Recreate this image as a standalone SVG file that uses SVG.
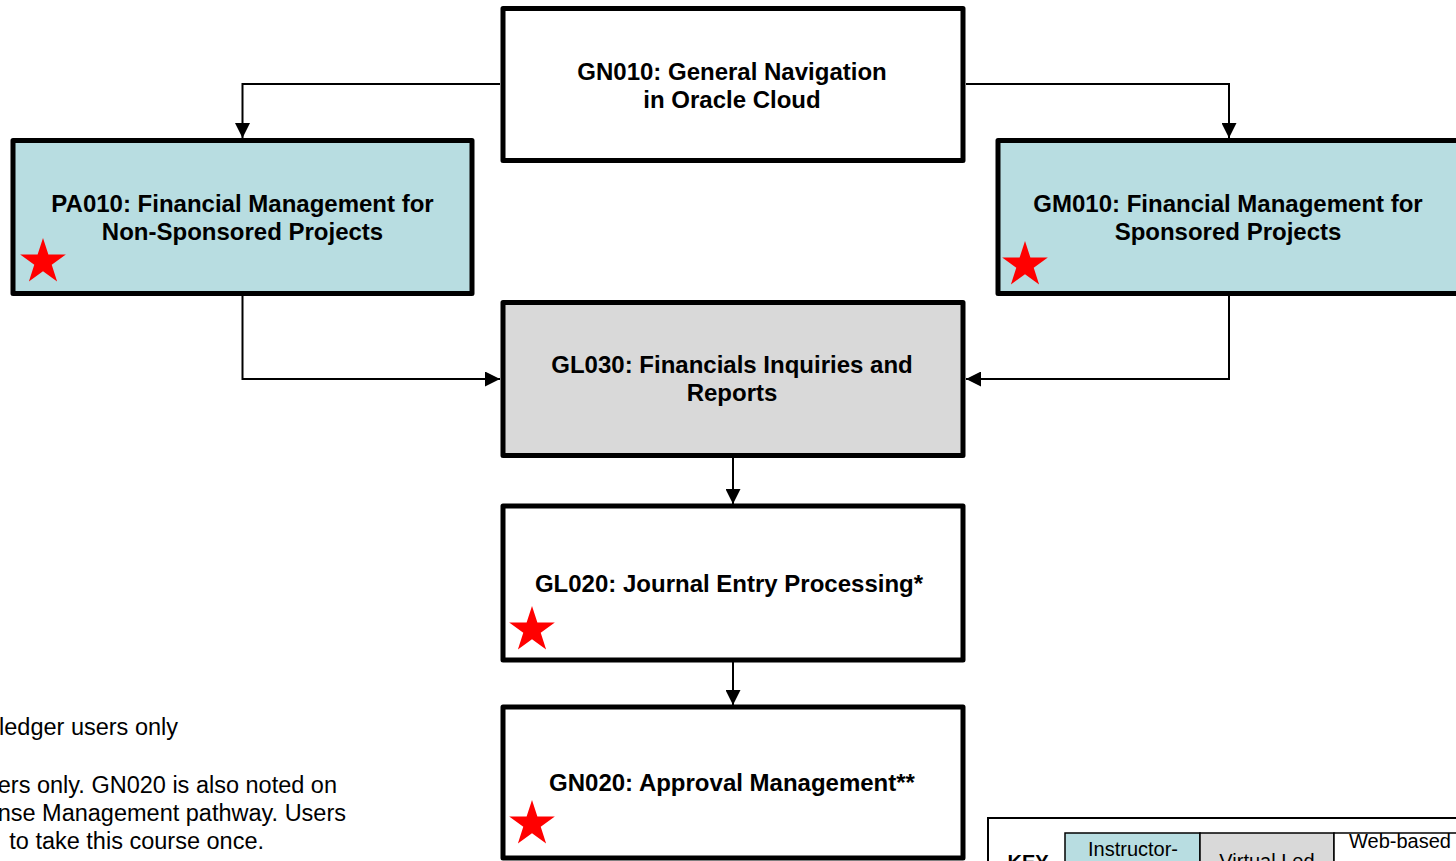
<svg xmlns="http://www.w3.org/2000/svg" xmlns:xlink="http://www.w3.org/1999/xlink" width="1456" height="861" viewBox="0 0 1456 861">
<style>
.box{stroke:#000;stroke-width:5;stroke-linejoin:round}
.white{fill:#fff}
.blue{fill:#B8DDE1}
.gray{fill:#D9D9D9}
.t{font-family:"Liberation Sans",Arial,sans-serif;font-weight:bold;font-size:24px;fill:#000;text-anchor:middle}
.note{font-family:"Liberation Sans",Arial,sans-serif;font-size:23.5px;fill:#000;text-anchor:end}
.conn{fill:none;stroke:#000;stroke-width:2}
.star{fill:#FF0000}
.key{font-family:"Liberation Sans",Arial,sans-serif;font-size:20px;fill:#000;text-anchor:middle}
</style>
<defs>
<marker id="arr" markerUnits="userSpaceOnUse" markerWidth="15" markerHeight="15" refX="15" refY="7.5" orient="auto">
<path d="M0,0 L15,7.5 L0,15 z" fill="#000"/>
</marker>
<polygon id="star" class="star" points="0,-24 5.39,-7.42 22.83,-7.42 8.72,2.83 14.11,19.42 0,9.17 -14.11,19.42 -8.72,2.83 -22.83,-7.42 -5.39,-7.42"/>
</defs>
<rect width="1456" height="861" fill="#fff"/>

<g id="connectors">
<path class="conn" d="M500,84 H242.5 V138" marker-end="url(#arr)"/>
<path class="conn" d="M966,84 H1229 V138" marker-end="url(#arr)"/>
<path class="conn" d="M242.5,296 V379 H500" marker-end="url(#arr)"/>
<path class="conn" d="M1229,296 V379 H966" marker-end="url(#arr)"/>
<path class="conn" d="M733,458 V504" marker-end="url(#arr)"/>
<path class="conn" d="M733,662 V705" marker-end="url(#arr)"/>
</g>

<g id="GN010">
<rect class="box white" x="503" y="8.5" width="460" height="152"/>
<text class="t" x="732" y="80">GN010: General Navigation</text>
<text class="t" x="732" y="108">in Oracle Cloud</text>
</g>

<g id="PA010">
<rect class="box blue" x="13" y="140.5" width="459" height="153"/>
<text class="t" x="242.5" y="212">PA010: Financial Management for</text>
<text class="t" x="242.5" y="240">Non-Sponsored Projects</text>
<use xlink:href="#star" x="43" y="262"/>
</g>

<g id="GM010">
<rect class="box blue" x="998" y="140.5" width="462" height="153"/>
<text class="t" x="1228" y="212">GM010: Financial Management for</text>
<text class="t" x="1228" y="240">Sponsored Projects</text>
<use xlink:href="#star" x="1025" y="265"/>
</g>

<g id="GL030">
<rect class="box gray" x="503" y="302.5" width="460" height="153"/>
<text class="t" x="732" y="373">GL030: Financials Inquiries and</text>
<text class="t" x="732" y="401">Reports</text>
</g>

<g id="GL020">
<rect class="box white" x="503" y="506" width="460" height="154"/>
<text class="t" x="729" y="592">GL020: Journal Entry Processing*</text>
<use xlink:href="#star" x="532" y="630"/>
</g>

<g id="GN020">
<rect class="box white" x="503" y="707" width="460" height="151"/>
<text class="t" x="732" y="791">GN020: Approval Management**</text>
<use xlink:href="#star" x="532" y="824"/>
</g>

<g id="notes">
<text class="note" x="178" y="735">ledger users only</text>
<text class="note" x="337" y="793">ers only. GN020 is also noted on</text>
<text class="note" x="346" y="821">nse Management pathway. Users</text>
<text class="note" x="264" y="849">to take this course once.</text>
</g>

<g id="key">
<rect x="988" y="818" width="480" height="60" fill="#fff" stroke="#000" stroke-width="2"/>
<rect x="1065" y="833" width="135" height="40" class="blue" stroke="#000" stroke-width="1.5"/>
<rect x="1200" y="833" width="134" height="40" class="gray" stroke="#000" stroke-width="1.5"/>
<rect x="1334" y="833" width="140" height="40" class="white" stroke="#000" stroke-width="1.5"/>
<text class="key" x="1028" y="869" font-weight="bold">KEY</text>
<text class="key" x="1133" y="856">Instructor-</text>
<text class="key" x="1267" y="868">Virtual Led</text>
<text class="key" x="1400" y="848" font-size="17px">Web-based</text>
</g>
</svg>
